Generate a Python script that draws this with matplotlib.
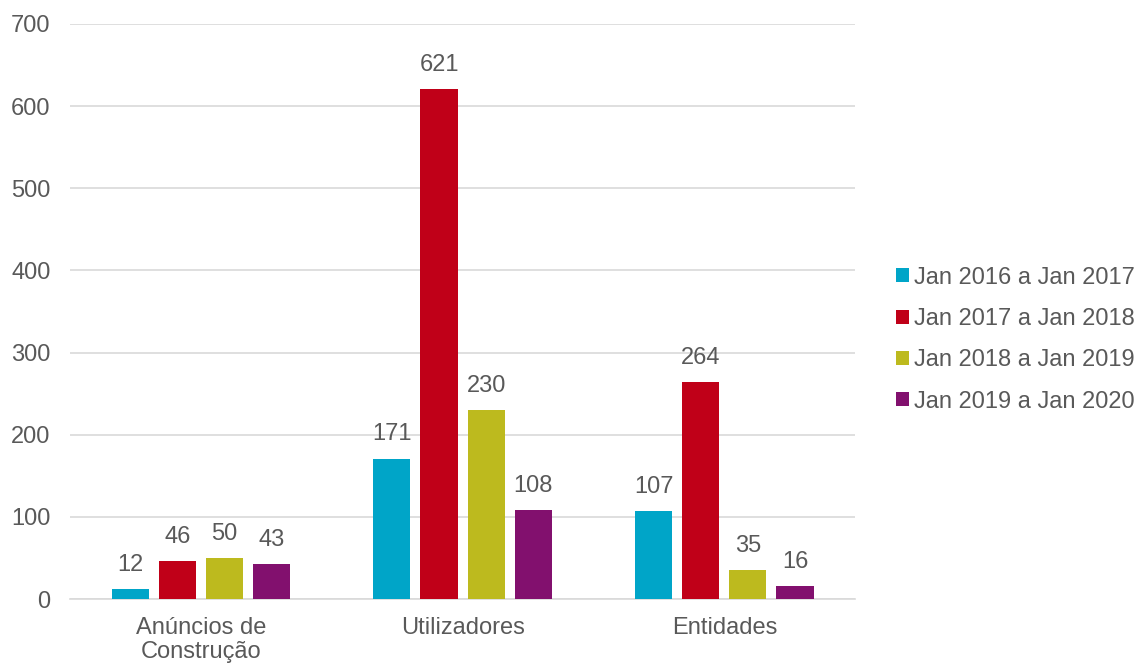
import numpy as np
import matplotlib
matplotlib.use("Agg")
import matplotlib.pyplot as plt

categories = ["Anúncios de\nConstrução", "Utilizadores", "Entidades"]
series = ["Jan 2016 a Jan 2017", "Jan 2017 a Jan 2018",
          "Jan 2018 a Jan 2019", "Jan 2019 a Jan 2020"]
values = [
    [12, 171, 107],
    [46, 621, 264],
    [50, 230, 35],
    [43, 108, 16],
]
colors = ["#00A5C8", "#C00018", "#BDBA1E", "#82106E"]

plt.rcParams['font.family'] = ['Liberation Sans', 'DejaVu Sans']
txt = "#595959"
fs = 17

fig = plt.figure(figsize=(11.43, 6.66), dpi=100)
ax = fig.add_axes([0.0612, 0.1006, 0.687, 0.8634])

x = np.arange(len(categories))
step = 0.18
width = 0.142
for i, (name, vals) in enumerate(zip(series, values)):
    pos = x + (i - 1.5) * step
    bars = ax.bar(pos, vals, width, color=colors[i], label=name, zorder=3)
    for b, v in zip(bars, vals):
        ax.text(b.get_x() + b.get_width() / 2, v + 16, str(v), ha='center',
                va='bottom', fontsize=fs, color=txt)

ax.set_xlim(-0.5, 2.5)
ax.set_ylim(0, 700)
ax.set_yticks(range(0, 701, 100))
ax.yaxis.grid(True, color="#D9D9D9", linewidth=1.2, zorder=0)
ax.set_xticks(x)
ax.set_xticklabels(categories, linespacing=1.1)
for s in ["top", "right", "left"]:
    ax.spines[s].set_visible(False)
ax.spines["bottom"].set_color("#D9D9D9")
ax.spines["bottom"].set_linewidth(1.2)
ax.tick_params(axis='both', length=0, labelsize=fs, colors=txt)
ax.tick_params(axis='y', pad=14)
ax.tick_params(axis='x', pad=13)

leg = ax.legend(loc='center left', bbox_to_anchor=(1.052, 0.451), frameon=False,
                fontsize=fs, handlelength=0.55, handleheight=0.55,
                handletextpad=0.2, labelspacing=0.82, borderaxespad=0,
                borderpad=0)
for t in leg.get_texts():
    t.set_color(txt)

fig.savefig("out.png", dpi=100)
